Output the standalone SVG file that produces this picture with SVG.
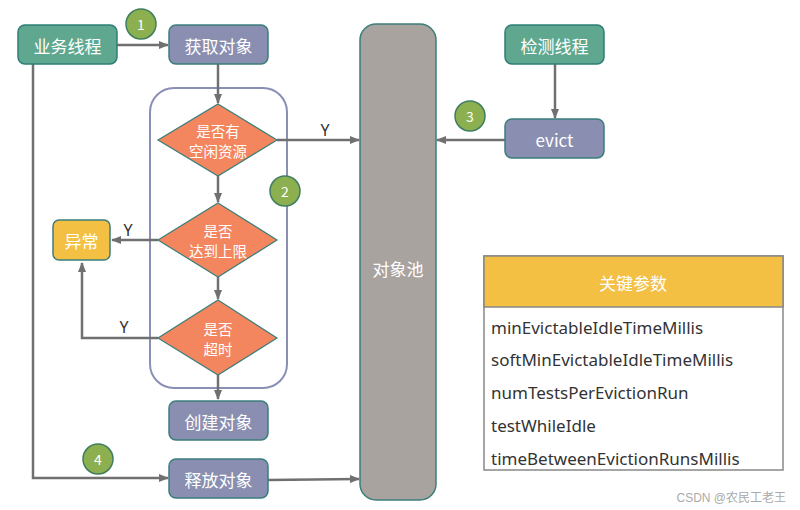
<svg xmlns="http://www.w3.org/2000/svg" width="800" height="510" viewBox="0 0 800 510">
<defs>
<marker id="ah" markerWidth="10" markerHeight="10" refX="9" refY="5" orient="auto" markerUnits="userSpaceOnUse">
<path d="M0,1 L10,5 L0,9 Z" fill="#707070"/>
</marker>
<style>
.t{font-family:"Noto Sans CJK SC","Noto Sans",sans-serif;fill:#fff;text-anchor:middle;dominant-baseline:central}
.n{font-size:17px}
.d{font-size:14.5px}
.teal{fill:#5FA88F;stroke:#2F7D77;stroke-width:1.5}
.pur{fill:#8A8FB1;stroke:#3A7E7B;stroke-width:1.5}
.dia{fill:#F3865F;stroke:#3A7E7B;stroke-width:1.2}
.cir{fill:#8CB04F;stroke:#3F7D60;stroke-width:1.5}
.ln{fill:none;stroke:#707070;stroke-width:2.5}
.lab{font-family:"Noto Sans","Liberation Sans",sans-serif;font-size:16px;fill:#333}
.row{font-family:"Noto Sans","Liberation Sans",sans-serif;font-size:17px;fill:#333}
</style>
</defs>
<rect width="800" height="510" fill="#fff"/>
<g id="container"><rect x="150" y="88" width="137" height="300" rx="24" fill="none" stroke="#8A8FB5" stroke-width="2"/></g>
<g id="connectors">
<line class="ln" x1="117" y1="45" x2="168" y2="45" marker-end="url(#ah)"/>
<line class="ln" x1="218" y1="64" x2="218" y2="103" marker-end="url(#ah)"/>
<line class="ln" x1="218" y1="176" x2="218" y2="202" marker-end="url(#ah)"/>
<line class="ln" x1="218" y1="277" x2="218" y2="299" marker-end="url(#ah)"/>
<line class="ln" x1="218" y1="375" x2="218" y2="399" marker-end="url(#ah)"/>
<line class="ln" x1="277" y1="140" x2="359" y2="140" marker-end="url(#ah)"/>
<line class="ln" x1="158" y1="240" x2="112" y2="240" marker-end="url(#ah)"/>
<polyline class="ln" points="158,338 82,338 82,263" marker-end="url(#ah)"/>
<polyline class="ln" points="33,64 33,478 168,478" marker-end="url(#ah)"/>
<line class="ln" x1="268" y1="480" x2="359" y2="479" marker-end="url(#ah)"/>
<line class="ln" x1="555" y1="64" x2="555" y2="118" marker-end="url(#ah)"/>
<line class="ln" x1="505" y1="140" x2="437" y2="140" marker-end="url(#ah)"/>
<text class="lab" x="325" y="136" text-anchor="middle">Y</text>
<text class="lab" x="128" y="236" text-anchor="middle">Y</text>
<text class="lab" x="124" y="333" text-anchor="middle">Y</text>
</g>
<g id="n-biz"><rect class="teal" x="18" y="25" width="99" height="39" rx="7"/><text class="t n" x="67.5" y="45">业务线程</text></g>
<g id="n-get"><rect class="pur" x="169" y="25" width="99" height="39" rx="7"/><text class="t n" x="218.5" y="45">获取对象</text></g>
<g id="n-d1"><polygon class="dia" points="218,104 277,140 218,176 158,140"/><text class="t d" x="218" y="130">是否有</text><text class="t d" x="218" y="150">空闲资源</text></g>
<g id="n-d2"><polygon class="dia" points="218,203 277,240 218,277 158,240"/><text class="t d" x="218" y="230">是否</text><text class="t d" x="218" y="250">达到上限</text></g>
<g id="n-d3"><polygon class="dia" points="218,300 277,338 218,375 158,338"/><text class="t d" x="218" y="328">是否</text><text class="t d" x="218" y="348">超时</text></g>
<g id="n-err"><rect x="53" y="220" width="57" height="40" rx="6" fill="#F4C044" stroke="#3A7E7B" stroke-width="1.5"/><text class="t n" x="81.5" y="240">异常</text></g>
<g id="n-create"><rect class="pur" x="169" y="401" width="99" height="39" rx="7"/><text class="t n" x="218.5" y="421">创建对象</text></g>
<g id="n-release"><rect class="pur" x="169" y="459" width="99" height="39" rx="7"/><text class="t n" x="218.5" y="479">释放对象</text></g>
<g id="n-pool"><rect x="360" y="24" width="76" height="476" rx="16" fill="#A9A39F" stroke="#3A7E7B" stroke-width="1.5"/><text class="t n" x="398" y="268">对象池</text></g>
<g id="n-detect"><rect class="teal" x="505" y="25" width="99" height="39" rx="7"/><text class="t n" x="554.5" y="45">检测线程</text></g>
<g id="n-evict"><rect class="pur" x="505" y="119" width="99" height="39" rx="7"/><text class="t n" x="554.5" y="139">evict</text></g>
<g id="c1"><circle class="cir" cx="141" cy="24" r="15"/><text class="t" x="141" y="24" font-size="14">1</text></g>
<g id="c2"><circle class="cir" cx="285" cy="191" r="15"/><text class="t" x="285" y="191" font-size="14">2</text></g>
<g id="c3"><circle class="cir" cx="470" cy="116" r="15"/><text class="t" x="470" y="116" font-size="14">3</text></g>
<g id="c4"><circle class="cir" cx="98" cy="459" r="15"/><text class="t" x="98" y="459" font-size="14">4</text></g>
<g id="params">
<rect x="484" y="256" width="299" height="214" fill="#fff" stroke="#888" stroke-width="1.5"/>
<rect x="484" y="256" width="299" height="51" fill="#F4C044" stroke="#888" stroke-width="1.5"/>
<text class="t n" x="633" y="282">关键参数</text>
<text class="row" x="491" y="334">minEvictableIdleTimeMillis</text>
<text class="row" x="491" y="366">softMinEvictableIdleTimeMillis</text>
<text class="row" x="491" y="399">numTestsPerEvictionRun</text>
<text class="row" x="491" y="432">testWhileIdle</text>
<text class="row" x="491" y="465">timeBetweenEvictionRunsMillis</text>
</g>
<text x="786" y="502" text-anchor="end" font-family="'Liberation Sans','Noto Sans CJK SC',sans-serif" font-size="12" fill="#aaa">CSDN @农民工老王</text>
</svg>
